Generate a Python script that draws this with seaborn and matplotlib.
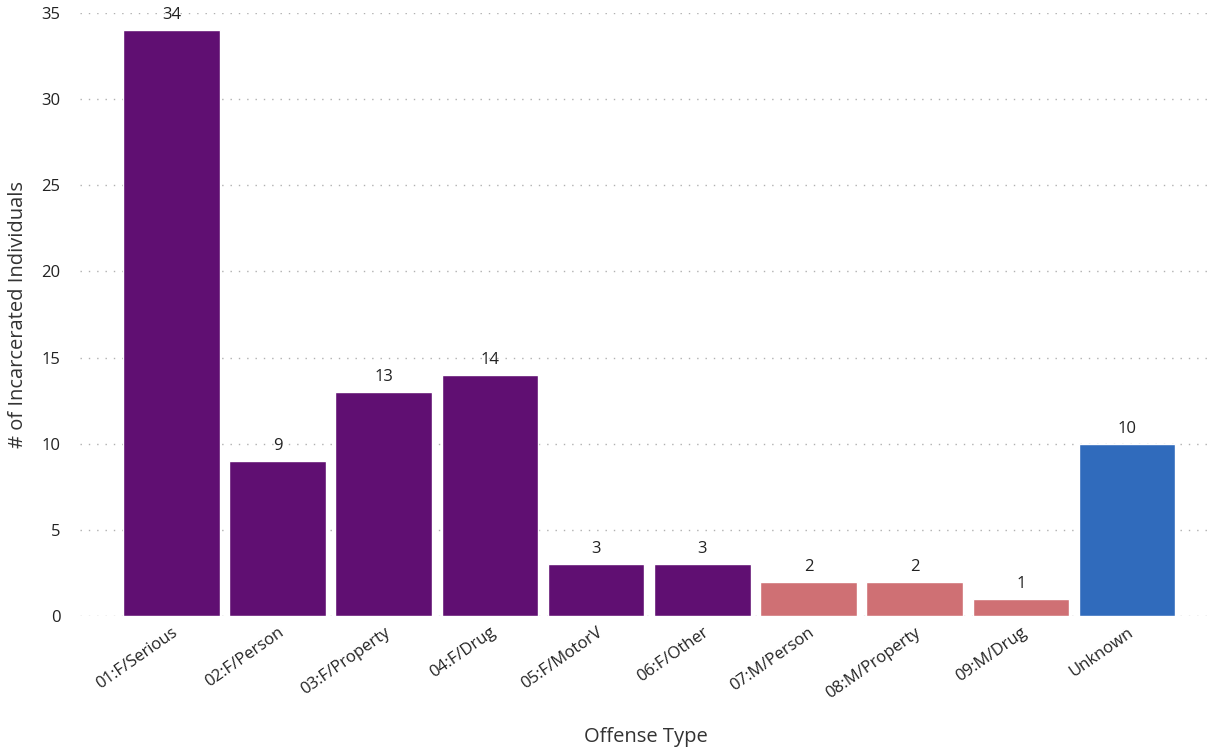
import matplotlib
matplotlib.use("Agg")
import matplotlib.pyplot as plt
import seaborn as sns
import pandas as pd

categories = ["01:F/Serious", "02:F/Person", "03:F/Property", "04:F/Drug", "05:F/MotorV",
              "06:F/Other", "07:M/Person", "08:M/Property", "09:M/Drug", "Unknown"]
values = [34, 9, 13, 14, 3, 3, 2, 2, 1, 10]
groups = ["Felony"] * 6 + ["Misdemeanor"] * 3 + ["Unknown"]
palette = {"Felony": "#600f72", "Misdemeanor": "#cf7074", "Unknown": "#306bbc"}

sns.set_theme(style="white")
plt.rcParams['font.family'] = ['Open Sans', 'DejaVu Sans']

df = pd.DataFrame({"cat": categories, "val": values, "grp": groups})

fig = plt.figure(figsize=(12.19, 7.47), dpi=100)
ax = fig.add_axes([80/1219, 131/747, (1212-80)/1219, (616-13)/747])

sns.barplot(data=df, x="cat", y="val", hue="grp", palette=palette, dodge=False,
            width=0.91, legend=False, ax=ax, saturation=1)

for c in ax.containers:
    ax.bar_label(c, padding=5, fontsize=12, color="#222222")

ax.set_ylim(0, 35)
ax.set_xlim(-0.86, 9.8)
ax.set_yticks(range(0, 36, 5))
ax.yaxis.grid(True, linestyle=(0, (1, 5)), color="#b0b0b0", linewidth=1)
ax.set_axisbelow(True)
for s in ax.spines.values():
    s.set_visible(False)
ax.tick_params(axis="y", labelsize=12, colors="#222222", length=0, pad=14)
ax.tick_params(axis="x", labelsize=12, colors="#222222", length=0, pad=6)
plt.setp(ax.get_xticklabels(), rotation=35, ha="right", rotation_mode="anchor")
ax.set_xlabel("Offense Type", fontsize=14.5, color="#333333", labelpad=18)
ax.set_ylabel("# of Incarcerated Individuals", fontsize=14.5, color="#333333", labelpad=10)

fig.savefig("out.png", dpi=100)
